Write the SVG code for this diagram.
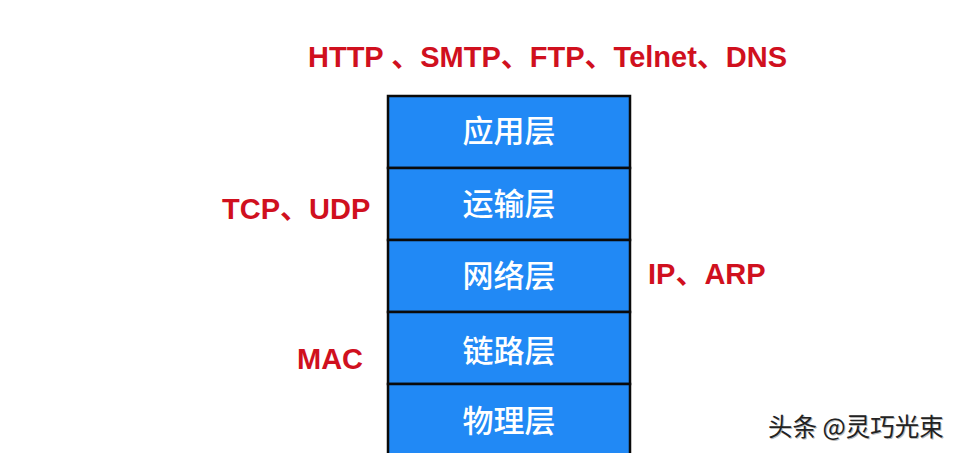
<svg xmlns="http://www.w3.org/2000/svg" width="958" height="453" viewBox="0 0 958 453">
<style>
.layer{fill:#2189F5;stroke:#0a0a0a;stroke-width:2.5}
.lt{font-family:"Noto Sans CJK SC","Noto Sans",sans-serif;font-size:31px;font-weight:500;fill:#ffffff;text-anchor:middle}
.proto{font-family:"Liberation Sans","Noto Sans CJK SC",sans-serif;font-size:29px;font-weight:bold;fill:#D0101E}
.wm{font-family:"Noto Sans CJK SC",sans-serif;font-size:24.5px;fill:#222222}
</style>
<rect width="958" height="453" fill="#ffffff"/>
<g id="app"><rect class="layer" x="388" y="96" width="242" height="72"/><text class="lt" x="509" y="142">应用层</text></g>
<g id="transport"><rect class="layer" x="388" y="168" width="242" height="72"/><text class="lt" x="509" y="215">运输层</text></g>
<g id="network"><rect class="layer" x="388" y="240" width="242" height="72"/><text class="lt" x="509" y="287">网络层</text></g>
<g id="link"><rect class="layer" x="388" y="312" width="242" height="72"/><text class="lt" x="509" y="362">链路层</text></g>
<g id="physical"><rect class="layer" x="388" y="384" width="242" height="80"/><text class="lt" x="509" y="432">物理层</text></g>
<g id="connectors"></g>
<g id="labels">
<text class="proto" x="308" y="67">HTTP 、SMTP、FTP、Telnet、DNS</text>
<text class="proto" x="222" y="219">TCP、UDP</text>
<text class="proto" x="648" y="284">IP、ARP</text>
<text class="proto" x="297" y="369">MAC</text>
</g>
<g id="watermark">
<text class="wm" x="769" y="437" style="fill:#bbbbbb">头条 @灵巧光束</text>
<text class="wm" x="768" y="436">头条 @灵巧光束</text>
</g>
</svg>
